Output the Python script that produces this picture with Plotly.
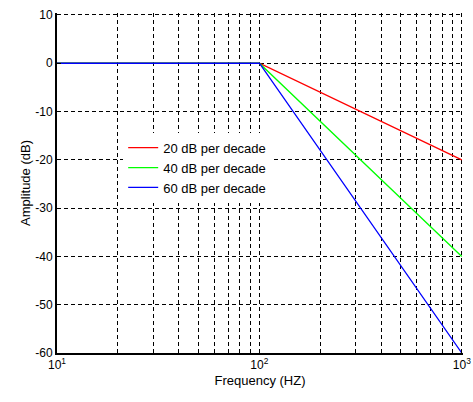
import plotly.graph_objects as go

freq = [10, 100, 1000]
amp_20 = [0, 0, -20]
amp_40 = [0, 0, -40]
amp_60 = [0, 0, -60]
names = ["20 dB per decade", "40 dB per decade", "60 dB per decade"]
colors = ["#ff0000", "#00ff00", "#0000ff"]

x_ticks = [10, 20, 30, 40, 50, 60, 70, 80, 90, 100, 200, 300, 400, 500, 600, 700, 800, 900, 1000]
x_labels = ["10<sup>1</sup>"] + [""] * 8 + ["10<sup>2</sup>"] + [""] * 8 + ["10<sup>3</sup>"]
y_ticks = [-60, -50, -40, -30, -20, -10, 0, 10]
y_labels = ["-60", "-50", "-40", "-30", "-20", "-10", "0", "10"]

fig = go.Figure()
for i, (amp, name, col) in enumerate(zip([amp_20, amp_40, amp_60], names, colors)):
    fig.add_trace(go.Scatter(x=freq, y=amp, mode="lines", name=name,
                             legendgroup=f"g{i}",
                             line=dict(color=col, width=1.3)))

fam = "Liberation Sans, Arial, sans-serif"
grid = dict(showgrid=True, gridcolor="black", griddash="4px,3px", gridwidth=1,
            showline=True, linecolor="black", linewidth=2, mirror=False,
            ticks="inside", ticklen=4, tickcolor="black", zeroline=False,
            automargin=False,
            tickfont=dict(family=fam, size=12, color="black"))
fig.update_layout(
    width=473, height=402,
    margin=dict(l=57, r=10, t=13, b=49),
    paper_bgcolor="white", plot_bgcolor="white",
    font=dict(family=fam, size=12, color="black"),
    showlegend=True,
    legend=dict(x=0.163, y=0.648, xanchor="left", yanchor="top",
                bgcolor="white", font=dict(family=fam, size=13, color="black"),
                itemwidth=30, tracegroupgap=0),
    xaxis=dict(type="log", range=[1, 3.006], tickvals=x_ticks, ticktext=x_labels,
               title=dict(text="Frequency (HZ)", standoff=4,
                          font=dict(family=fam, size=13, color="black")),
               **grid),
    yaxis=dict(range=[-60, 10.4], tickvals=y_ticks, ticktext=y_labels,
               title=dict(text="Amplitude (dB)", standoff=2,
                          font=dict(family=fam, size=13, color="black")),
               **grid),
)
fig.write_html("out.html")
